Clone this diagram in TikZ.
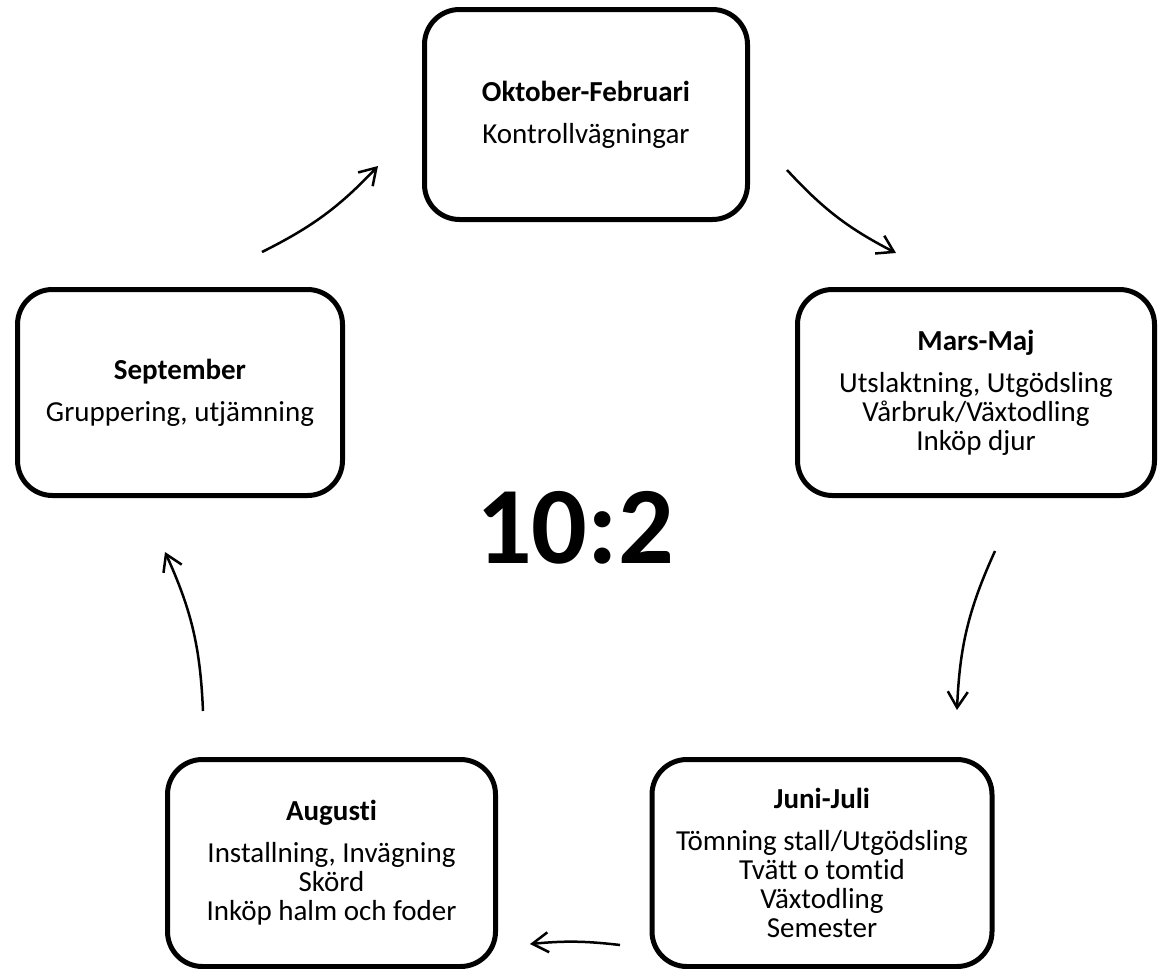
\documentclass[tikz,border=0pt]{standalone}
\usepackage{fontspec}
\setmainfont{Carlito}[Ligatures=NoCommon]
\usetikzlibrary{arrows.meta}
\begin{document}
\begin{tikzpicture}[x=1pt,y=-1pt,
  box/.style={draw, line width=5pt, rounded corners=35pt, align=center, inner sep=0pt,
    font=\fontsize{29}{29}\selectfont},
  flow/.style={line width=2.5pt, -{Straight Barb[length=16pt,width=20pt]}, bend right=10}]
\useasboundingbox (0,0) rectangle (1160,969);
\node[box, minimum width=323pt, minimum height=210pt] (okt) at (586,114.5)
  {\textbf{Oktober-Februari}\\[13pt]Kontrollvägningar};
\node[box, minimum width=357pt, minimum height=206pt] (mars) at (976,392.5)
  {\textbf{Mars-Maj}\\[13pt]Utslaktning, Utgödsling\\Vårbruk/Växtodling\\Inköp djur};
\node[box, minimum width=325pt, minimum height=206pt] (sep) at (180,392.5)
  {\textbf{September}\\[13pt]Gruppering, utjämning};
\node[box, minimum width=328pt, minimum height=207pt] (aug) at (331.5,863)
  {\textbf{Augusti}\\[13pt]Installning, Invägning\\Skörd\\Inköp halm och foder};
\node[box, minimum width=340pt, minimum height=207pt] (juni) at (822,863)
  {\textbf{Juni-Juli}\\[13pt]Tömning stall/Utgödsling\\Tvätt o tomtid\\Växtodling\\Semester};
\node[font=\fontsize{110}{110}\selectfont\bfseries] (ratio) at (575,528) {10:2};
\coordinate (a1s) at (262,252); \coordinate (a1e) at (378,166);
\coordinate (a2s) at (787,170); \coordinate (a2e) at (896,253);
\coordinate (a3s) at (995,551); \coordinate (a3e) at (957,710);
\coordinate (a4s) at (620,945); \coordinate (a4e) at (530,944);
\coordinate (a5s) at (203,711); \coordinate (a5e) at (165,552);
\draw[flow] (a1s) to (a1e);
\draw[flow] (a2s) to (a2e);
\draw[flow, bend right=11] (a3s) to (a3e);
\draw[flow, bend right=6] (a4s) to (a4e);
\draw[flow, bend right=11] (a5s) to (a5e);
\end{tikzpicture}
\end{document}
